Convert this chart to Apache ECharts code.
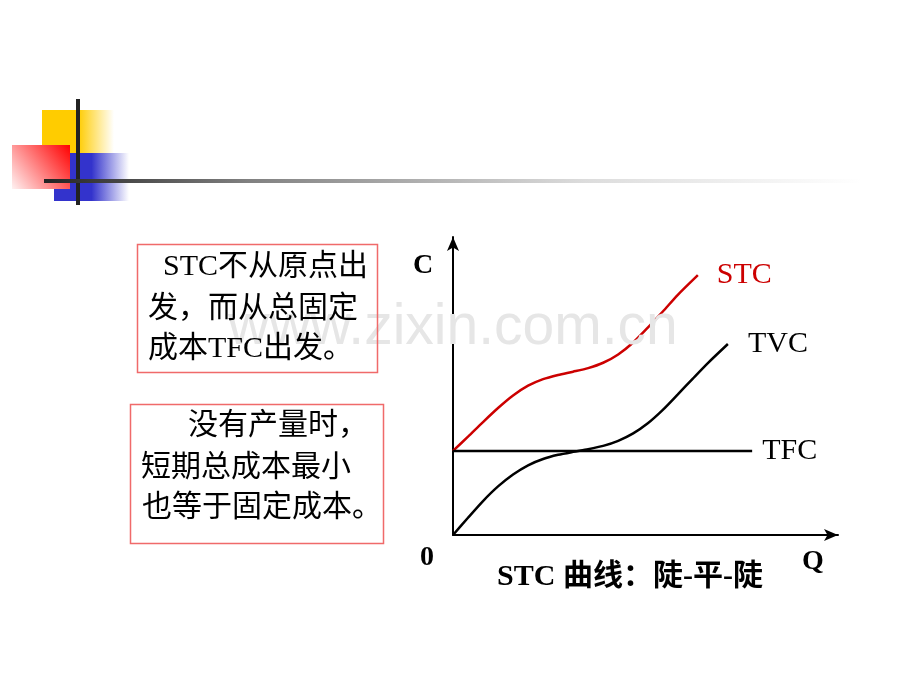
<!DOCTYPE html>
<html>
<head>
<meta charset="utf-8">
<script src="https://cdn.jsdelivr.net/npm/echarts@6/dist/echarts.min.js"></script>
<style>html,body{margin:0;padding:0;background:#fff;}#c{width:920px;height:690px;}</style>
</head>
<body>
<div id="c"></div>
<script>
// ---- data ----
const seriesNames = ['STC', 'TVC', 'TFC'];
const stcData = [[0, 28.2], [3.9, 33.0], [7.8, 37.9], [11.7, 42.6], [15.6, 46.8], [19.5, 50.1], [23.4, 52.3], [27.3, 53.7], [31.2, 54.8], [35.1, 56.0], [39.0, 57.8], [42.9, 60.6], [46.8, 64.6], [50.6, 69.6], [54.5, 75.0], [58.4, 80.6], [63.6, 87.2]];
const tvcData = [[0, 0], [3.9, 5.8], [7.8, 11.4], [11.7, 16.3], [15.6, 20.3], [19.5, 23.4], [23.4, 25.5], [27.3, 26.9], [31.2, 27.9], [35.1, 28.8], [39.0, 29.9], [42.9, 31.6], [46.8, 34.1], [50.6, 37.5], [54.5, 42.0], [58.4, 47.2], [62.3, 52.5], [66.2, 57.7], [71.4, 64.1]];
const tfcData = [[0, 28.2], [77.7, 28.2]];
const axisNames = { y: 'C', x: 'Q', origin: '0' };
const captionText = 'STC 曲线：陡-平-陡';
const box1Lines = ['STC不从原点出', '发，而从总固定', '成本TFC出发。'];
const box2Lines = ['没有产量时，', '短期总成本最小', '也等于固定成本。'];
const watermark = 'www.zixin.com.cn';

const serifFont = "'Liberation Serif', 'Noto Sans CJK SC', serif";
const chart = echarts.init(document.getElementById('c'), null, { renderer: 'canvas' });

function textEl(text, x, y, size, opts) {
  opts = opts || {};
  return {
    type: 'text', x: x, y: y, z: opts.z || 10,
    style: {
      text: text, fill: opts.fill || '#000',
      font: (opts.bold ? 'bold ' : '') + size + 'px ' + (opts.family || serifFont),
      textAlign: opts.align || 'left', textVerticalAlign: 'middle'
    }
  };
}

const graphics = [
  // watermark
  textEl(watermark, 228, 328, 57, { fill: '#e6e6e6', family: "'Liberation Sans', Arial, sans-serif", z: 0 }),
  // header decoration
  { type: 'rect', z: 10, shape: { x: 42, y: 110, width: 72, height: 43 },
    style: { fill: new echarts.graphic.LinearGradient(0, 0, 1, 0, [
      { offset: 0, color: '#ffcc00' }, { offset: 0.5, color: '#ffcc00' }, { offset: 1, color: 'rgba(255,204,0,0)' }]) } },
  { type: 'rect', z: 10, shape: { x: 54, y: 153, width: 75, height: 48 },
    style: { fill: new echarts.graphic.LinearGradient(0, 0, 1, 0, [
      { offset: 0, color: '#3333cc' }, { offset: 0.5, color: '#3333cc' }, { offset: 1, color: 'rgba(51,51,204,0)' }]) } },
  { type: 'rect', z: 11, shape: { x: 12, y: 145, width: 58, height: 44 },
    style: { fill: new echarts.graphic.LinearGradient(1, 0, 0, 1, [
      { offset: 0, color: '#ff0000' }, { offset: 1, color: '#fff2f2' }]) } },
  { type: 'line', z: 12, shape: { x1: 78, y1: 99, x2: 78, y2: 205 },
    style: { stroke: '#222', lineWidth: 4 } },
  { type: 'line', z: 12, shape: { x1: 44, y1: 181, x2: 860, y2: 181 },
    style: { lineWidth: 4, stroke: new echarts.graphic.LinearGradient(0, 0, 1, 0, [
      { offset: 0, color: '#222' }, { offset: 0.25, color: '#808080' }, { offset: 0.66, color: '#dcdcdc' }, { offset: 1, color: '#fff' }]) } },
  // text boxes
  { type: 'rect', z: 10, shape: { x: 137.5, y: 244.5, width: 240, height: 128 },
    style: { fill: 'rgba(0,0,0,0)', stroke: '#f06a6a', lineWidth: 1.5 } },
  { type: 'rect', z: 10, shape: { x: 130.5, y: 404.5, width: 253, height: 139 },
    style: { fill: 'rgba(0,0,0,0)', stroke: '#f06a6a', lineWidth: 1.5 } },
  textEl(box1Lines[0], 163, 267, 30),
  textEl(box1Lines[1], 148, 309, 30),
  textEl(box1Lines[2], 148, 349, 30),
  textEl(box2Lines[0], 188, 426, 30),
  textEl(box2Lines[1], 141, 468, 30),
  textEl(box2Lines[2], 142, 508, 30),
  // axis names and caption
  textEl(axisNames.y, 423, 266, 28, { bold: true, align: 'center' }),
  textEl(axisNames.origin, 427, 558, 28, { bold: true, align: 'center' }),
  textEl(axisNames.x, 813, 562, 28, { bold: true, align: 'center' }),
  textEl(captionText, 630, 577, 30, { bold: true, align: 'center' })
];

function lineSeries(name, data, color, dist) {
  return {
    type: 'line', name: name, data: data, smooth: 0.25, symbol: 'none', z: 5,
    lineStyle: { color: color, width: 2.5 },
    endLabel: { show: true, formatter: name, distance: dist, color: color,
      fontFamily: serifFont, fontSize: 30 },
    animation: false
  };
}

const axisCommon = {
  type: 'value', min: 0, max: 100,
  axisLabel: { show: false }, axisTick: { show: false }, splitLine: { show: false },
  axisLine: { show: true, onZero: false, symbol: ['none', 'arrow'], symbolSize: [9, 14], symbolOffset: [0, 0],
    lineStyle: { color: '#000', width: 2 } }
};

chart.setOption({
  animation: false,
  backgroundColor: '#fff',
  grid: { left: 453, top: 237, width: 385, height: 298, containLabel: false },
  xAxis: Object.assign({}, axisCommon),
  yAxis: Object.assign({}, axisCommon),
  series: [
    lineSeries(seriesNames[0], stcData, '#cc0000', 19),
    lineSeries(seriesNames[1], tvcData, '#000', 20),
    lineSeries(seriesNames[2], tfcData, '#000', 10)
  ],
  graphic: graphics
});
</script>
</body>
</html>
